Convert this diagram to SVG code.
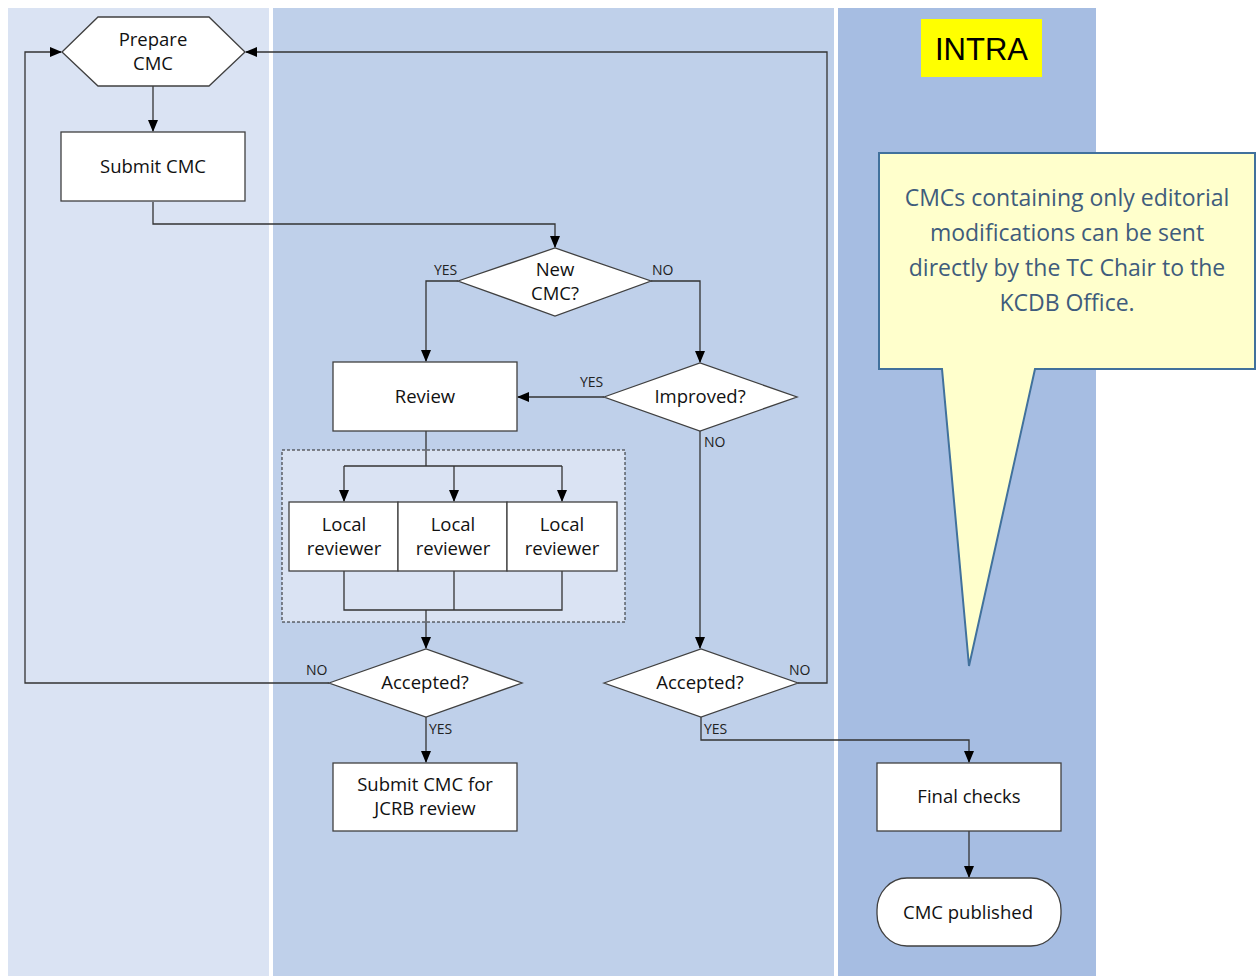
<svg xmlns="http://www.w3.org/2000/svg" width="1259" height="976" viewBox="0 0 1259 976">
<defs>
<marker id="arr" markerWidth="12" markerHeight="12" refX="11" refY="6" orient="auto" markerUnits="userSpaceOnUse">
<path d="M0,1 L12,6 L0,11 Z" fill="#000"/>
</marker>
<style>
.shape{fill:#fff;stroke:#404040;stroke-width:1.3}
.conn{fill:none;stroke:#333;stroke-width:1.3}
.t{font-family:"Open Sans","Noto Sans",sans-serif;font-size:18.5px;fill:#111;text-anchor:middle}
.lbl{font-family:"Open Sans","Noto Sans",sans-serif;font-size:14px;fill:#222}
.note{font-family:"Open Sans","Noto Sans",sans-serif;font-size:23px;fill:#3f5c7c;text-anchor:middle}
</style>
</defs>
<rect width="1259" height="976" fill="#fff"/>
<g id="lanes">
<rect x="8" y="8" width="261" height="968" fill="#dae3f3"/>
<rect x="273" y="8" width="561" height="968" fill="#bfd0ea"/>
<rect x="838" y="8" width="258" height="968" fill="#a6bde2"/>
</g>
<g id="group-box">
<rect x="282" y="450" width="343" height="172" fill="#dae3f3" stroke="#222" stroke-width="1" stroke-dasharray="3,2"/>
</g>
<g id="connectors">
<path class="conn" d="M153,86 V131" marker-end="url(#arr)"/>
<path class="conn" d="M153,202 V224 H555 V247" marker-end="url(#arr)"/>
<path class="conn" d="M458,281 H426 V361" marker-end="url(#arr)"/>
<path class="conn" d="M651,281 H700 V362" marker-end="url(#arr)"/>
<path class="conn" d="M604,397 H518" marker-end="url(#arr)"/>
<path class="conn" d="M426,431 V466"/>
<path class="conn" d="M344,466 H562"/>
<path class="conn" d="M344,466 V501" marker-end="url(#arr)"/>
<path class="conn" d="M454,466 V501" marker-end="url(#arr)"/>
<path class="conn" d="M562,466 V501" marker-end="url(#arr)"/>
<path class="conn" d="M344,571 V610 H562 V571"/>
<path class="conn" d="M454,571 V610"/>
<path class="conn" d="M426,610 V648" marker-end="url(#arr)"/>
<path class="conn" d="M700,431 V648" marker-end="url(#arr)"/>
<path class="conn" d="M329,683 H25 V52 H61" marker-end="url(#arr)"/>
<path class="conn" d="M798,683 H827 V52 H246" marker-end="url(#arr)"/>
<path class="conn" d="M426,717 V762" marker-end="url(#arr)"/>
<path class="conn" d="M701,717 V740 H969 V762" marker-end="url(#arr)"/>
<path class="conn" d="M969,831 V877" marker-end="url(#arr)"/>
<text class="lbl" x="434" y="275">YES</text>
<text class="lbl" x="652" y="275">NO</text>
<text class="lbl" x="580" y="387">YES</text>
<text class="lbl" x="704" y="447">NO</text>
<text class="lbl" x="306" y="675">NO</text>
<text class="lbl" x="429" y="734">YES</text>
<text class="lbl" x="789" y="675">NO</text>
<text class="lbl" x="704" y="734">YES</text>
</g>
<g id="prepare">
<polygon class="shape" points="62,52 98,17 209,17 245,52 209,86 98,86"/>
<text class="t" x="153" y="46">Prepare</text>
<text class="t" x="153" y="70">CMC</text>
</g>
<g id="submit">
<rect class="shape" x="61" y="132" width="184" height="69"/>
<text class="t" x="153" y="173">Submit CMC</text>
</g>
<g id="newcmc">
<polygon class="shape" points="458,281 555,248 651,281 555,316"/>
<text class="t" x="555" y="276">New</text>
<text class="t" x="555" y="300">CMC?</text>
</g>
<g id="review">
<rect class="shape" x="333" y="362" width="184" height="69"/>
<text class="t" x="425" y="403">Review</text>
</g>
<g id="improved">
<polygon class="shape" points="604,397 700,363 797,397 700,431"/>
<text class="t" x="700" y="403">Improved?</text>
</g>
<g id="reviewer1">
<rect class="shape" x="289" y="502" width="109" height="69"/>
<text class="t" x="344" y="531">Local</text>
<text class="t" x="344" y="555">reviewer</text>
</g>
<g id="reviewer2">
<rect class="shape" x="398" y="502" width="109" height="69"/>
<text class="t" x="453" y="531">Local</text>
<text class="t" x="453" y="555">reviewer</text>
</g>
<g id="reviewer3">
<rect class="shape" x="507" y="502" width="110" height="69"/>
<text class="t" x="562" y="531">Local</text>
<text class="t" x="562" y="555">reviewer</text>
</g>
<g id="accepted1">
<polygon class="shape" points="329,683 426,649 522,683 426,717"/>
<text class="t" x="425" y="689">Accepted?</text>
</g>
<g id="accepted2">
<polygon class="shape" points="604,683 701,649 798,683 701,717"/>
<text class="t" x="700" y="689">Accepted?</text>
</g>
<g id="jcrb">
<rect class="shape" x="333" y="763" width="184" height="68"/>
<text class="t" x="425" y="791">Submit CMC for</text>
<text class="t" x="425" y="815">JCRB review</text>
</g>
<g id="finalchecks">
<rect class="shape" x="877" y="763" width="184" height="68"/>
<text class="t" x="969" y="803">Final checks</text>
</g>
<g id="published">
<rect class="shape" x="877" y="878" width="184" height="68" rx="30" ry="32"/>
<text class="t" x="968" y="919">CMC published</text>
</g>
<g id="intra">
<rect x="921" y="19" width="121" height="58" fill="#ffff00"/>
<text x="981.5" y="60" font-family="Liberation Sans, Arial, sans-serif" font-size="31" fill="#000" text-anchor="middle">INTRA</text>
</g>
<g id="callout">
<polygon points="879,153 1255,153 1255,369 1035,369 969,666 942,369 879,369" fill="#ffffcc" stroke="#41719c" stroke-width="2"/>
<text class="note" x="1067" y="206">CMCs containing only editorial</text>
<text class="note" x="1067" y="241">modifications can be sent</text>
<text class="note" x="1067" y="276">directly by the TC Chair to the</text>
<text class="note" x="1067" y="311">KCDB Office.</text>
</g>
</svg>
